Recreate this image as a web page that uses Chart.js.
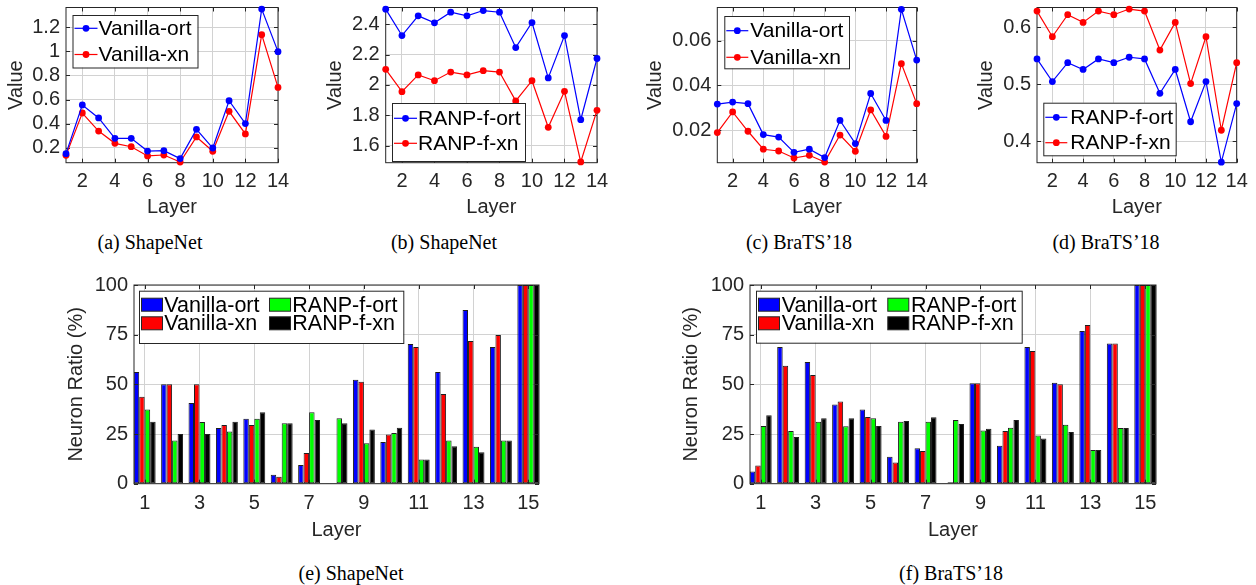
<!DOCTYPE html>
<html>
<head>
<meta charset="utf-8">
<script src="https://cdn.jsdelivr.net/npm/chart.js@4.4.1/dist/chart.umd.min.js"></script>
<style>
body { margin: 0; background: #fff; width: 1256px; height: 585px; position: relative; overflow: hidden; }
canvas { position: absolute; }
.cap { position: absolute; font-family: 'Liberation Serif', 'Times New Roman', serif; font-size: 20px; color: #000; transform: translate(-50%, -50%); white-space: nowrap; }
</style>
</head>
<body>
<canvas id="chart-a"></canvas>
<canvas id="chart-b"></canvas>
<canvas id="chart-c"></canvas>
<canvas id="chart-d"></canvas>
<canvas id="chart-e"></canvas>
<canvas id="chart-f"></canvas>
<div class="cap" style="left:150px;top:242px">(a) ShapeNet</div>
<div class="cap" style="left:444px;top:242px">(b) ShapeNet</div>
<div class="cap" style="left:799px;top:242px">(c) BraTS’18</div>
<div class="cap" style="left:1106px;top:242px">(d) BraTS’18</div>
<div class="cap" style="left:351px;top:573px">(e) ShapeNet</div>
<div class="cap" style="left:951px;top:573px">(f) BraTS’18</div>
<script>
// top row: per-layer values, 14 layers
const layers = [1, 2, 3, 4, 5, 6, 7, 8, 9, 10, 11, 12, 13, 14];
const layerTicks = [2, 4, 6, 8, 10, 12, 14];

const shapeVanillaOrt = [0.150, 0.555, 0.447, 0.278, 0.278, 0.172, 0.175, 0.109, 0.352, 0.197, 0.590, 0.400, 1.352, 0.998];
const shapeVanillaXn  = [0.136, 0.488, 0.338, 0.236, 0.208, 0.131, 0.139, 0.081, 0.289, 0.170, 0.502, 0.314, 1.139, 0.701];
const shapeRanpOrt    = [2.499, 2.325, 2.455, 2.409, 2.479, 2.455, 2.490, 2.479, 2.246, 2.411, 2.046, 2.325, 1.771, 2.174];
const shapeRanpXn     = [2.103, 1.956, 2.066, 2.028, 2.085, 2.066, 2.094, 2.085, 1.895, 2.028, 1.721, 1.958, 1.493, 1.833];
const bratsVanillaOrt = [0.0317, 0.0326, 0.0319, 0.0181, 0.0170, 0.0102, 0.0116, 0.0079, 0.0244, 0.0141, 0.0364, 0.0244, 0.0739, 0.0513];
const bratsVanillaXn  = [0.0190, 0.0282, 0.0196, 0.0116, 0.0108, 0.0077, 0.0089, 0.0059, 0.0179, 0.0107, 0.0291, 0.0173, 0.0497, 0.0319];
const bratsRanpOrt    = [0.5446, 0.5047, 0.5380, 0.5260, 0.5446, 0.5380, 0.5475, 0.5446, 0.4840, 0.5260, 0.4340, 0.5047, 0.3630, 0.4660];
const bratsRanpXn     = [0.6287, 0.5836, 0.6223, 0.6088, 0.6287, 0.6223, 0.6323, 0.6287, 0.5601, 0.6088, 0.5012, 0.5836, 0.4191, 0.5380];

// y limits and ticks of the four line plots
const yLimA = [0.075, 1.365], yTicksA = [0.2, 0.4, 0.6, 0.8, 1.0, 1.2];
const yLimB = [1.488, 2.51],  yTicksB = [1.6, 1.8, 2.0, 2.2, 2.4];
const yLimC = [0.0056, 0.0747], yTicksC = [0.02, 0.04, 0.06];
const yLimD = [0.362, 0.635], yTicksD = [0.4, 0.5, 0.6];

// bottom row: neuron ratio (%) per layer, 15 layers
const barLayers = [1, 2, 3, 4, 5, 6, 7, 8, 9, 10, 11, 12, 13, 14, 15];
const barTicks = [1, 3, 5, 7, 9, 11, 13, 15];
const ratioTicks = [0, 25, 50, 75, 100];

const shapeRatioVanillaOrt = [56.2, 50.0, 40.6, 28.0, 32.7, 4.5, 9.4, 0.3, 52.3, 21.0, 70.3, 56.2, 87.4, 68.8, 100];
const shapeRatioVanillaXn  = [43.8, 50.0, 50.0, 29.5, 29.5, 3.5, 15.4, 0.3, 51.3, 24.8, 68.8, 45.1, 71.8, 74.8, 100];
const shapeRatioRanpOrt    = [37.4, 21.8, 31.0, 26.3, 32.7, 30.4, 35.9, 33.0, 20.3, 25.5, 12.2, 21.8, 18.6, 21.8, 100];
const shapeRatioRanpXn     = [31.2, 25.0, 25.0, 31.2, 35.9, 30.4, 32.0, 30.4, 27.3, 28.2, 12.2, 18.8, 15.8, 21.8, 100];

const bratsRatioVanillaOrt = [6.2, 68.8, 61.2, 39.9, 37.4, 13.6, 17.8, 0.3, 50.5, 19.1, 68.8, 50.8, 76.8, 70.5, 100];
const bratsRatioVanillaXn  = [9.2, 59.4, 54.7, 41.4, 33.6, 10.7, 16.4, 0.7, 50.5, 26.5, 66.8, 50.0, 79.9, 70.5, 100];
const bratsRatioRanpOrt    = [29.0, 26.5, 31.2, 28.9, 32.9, 31.2, 31.2, 32.0, 26.8, 28.2, 24.2, 29.7, 16.9, 28.0, 100];
const bratsRatioRanpXn     = [34.5, 23.5, 33.0, 33.0, 29.0, 31.5, 33.4, 30.0, 27.7, 32.0, 22.7, 26.0, 16.9, 28.0, 100];

const SANS = "'Liberation Sans', Arial, Helvetica, sans-serif";
const AXIS = '#262626';
const GRID = '#d2d2d2';

function place(id, c) {
    const el = document.getElementById(id);
    el.width = c.w; el.height = c.h;
    el.style.left = c.x + 'px'; el.style.top = c.y + 'px';
    el.style.width = c.w + 'px'; el.style.height = c.h + 'px';
    return el;
}

// matlab style axes box with inward ticks on all four sides
// (under the lines for line plots, over the bars for bar plots)
const matlabBox = {
    id: 'matlabBox',
    beforeDatasetsDraw(chart) { if (chart.config.type !== 'bar') drawBox(chart); },
    afterDatasetsDraw(chart) { if (chart.config.type === 'bar') drawBox(chart); }
};
function drawBox(chart) {
    const { ctx, chartArea: a, scales: { x, y } } = chart;
    const tl = 4;
    ctx.save();
    ctx.strokeStyle = AXIS;
    ctx.lineWidth = 1;
    ctx.beginPath();
    x.ticks.forEach(t => {
        const px = Math.round(x.getPixelForValue(t.value)) + 0.5;
        ctx.moveTo(px, a.bottom); ctx.lineTo(px, a.bottom - tl);
        ctx.moveTo(px, a.top); ctx.lineTo(px, a.top + tl);
    });
    y.ticks.forEach(t => {
        const py = Math.round(y.getPixelForValue(t.value)) + 0.5;
        ctx.moveTo(a.left, py); ctx.lineTo(a.left + tl, py);
        ctx.moveTo(a.right, py); ctx.lineTo(a.right - tl, py);
    });
    ctx.stroke();
    ctx.strokeRect(a.left, a.top, a.right - a.left, a.bottom - a.top);
    ctx.restore();
}

// boxed legend placed inside the axes
const boxLegend = {
    id: 'boxLegend',
    afterDraw(chart, args, o) {
        const ctx = chart.ctx;
        ctx.save();
        ctx.fillStyle = '#fff';
        ctx.fillRect(o.x, o.y, o.w, o.h);
        ctx.strokeStyle = AXIS;
        ctx.lineWidth = 1;
        ctx.strokeRect(o.x + 0.5, o.y + 0.5, o.w, o.h);
        ctx.font = o.size + 'px ' + SANS;
        ctx.textBaseline = 'middle';
        const rows = [o.r1, o.r2];
        chart.data.datasets.forEach((ds, i) => {
            const col = Math.floor(i / 2), row = i % 2;
            const bx = o.x + col * (o.colW || 0), cy = o.y + rows[row];
            if (o.kind === 'line') {
                ctx.strokeStyle = ds.borderColor;
                ctx.lineWidth = ds.borderWidth;
                ctx.beginPath();
                ctx.moveTo(bx + 2, cy); ctx.lineTo(bx + 2 + o.lineLen, cy);
                ctx.stroke();
                ctx.fillStyle = ds.pointBackgroundColor;
                ctx.beginPath();
                ctx.arc(bx + 2 + o.lineLen / 2, cy, ds.pointRadius, 0, Math.PI * 2);
                ctx.fill();
            } else {
                ctx.fillStyle = ds.backgroundColor;
                ctx.fillRect(bx + 2.5, cy - 6.5, 21, 13);
                ctx.strokeStyle = AXIS;
                ctx.lineWidth = 1;
                ctx.strokeRect(bx + 2.5, cy - 6.5, 21, 13);
            }
            ctx.fillStyle = '#000';
            ctx.fillText(ds.label, bx + o.textX, cy + 1);
        });
        ctx.restore();
    }
};

function fmt(v) { return String(Math.round(v * 10000) / 10000); }

function lineChart(id, c, p, yTitlePad, names, seriesA, seriesB, yLim, yTicks, legend) {
    const mk = (label, color, data) => ({
        label,
        data: layers.map((l, i) => ({ x: l, y: data[i] })),
        borderColor: color,
        backgroundColor: color,
        pointBackgroundColor: color,
        pointBorderWidth: 0,
        pointRadius: 3.4,
        borderWidth: 1.2,
        tension: 0,
        clip: false
    });
    return new Chart(place(id, c), {
        type: 'line',
        data: { datasets: [mk(names[0], '#0000ff', seriesA), mk(names[1], '#ff0000', seriesB)] },
        options: {
            responsive: false,
            animation: false,
            layout: { padding: { left: 0, top: p.t - c.y, right: c.x + c.w - p.r, bottom: 0 } },
            plugins: {
                legend: { display: false },
                tooltip: { enabled: false },
                boxLegend: legend
            },
            scales: {
                x: {
                    type: 'linear', min: layers[0], max: layers[layers.length - 1],
                    afterBuildTicks: s => { s.ticks = layerTicks.map(v => ({ value: v })); },
                    afterFit: s => { s.height = c.y + c.h - p.b; s.paddingLeft = 0; s.paddingRight = 0; },
                    grid: { color: GRID, drawTicks: false },
                    border: { display: false },
                    ticks: { font: { size: 20, family: SANS }, color: AXIS, padding: 7, maxRotation: 0, autoSkip: false, callback: v => fmt(v) },
                    title: { display: true, text: 'Layer', font: { size: 20, family: SANS }, color: AXIS, padding: { top: 0, bottom: 6 } }
                },
                y: {
                    min: yLim[0], max: yLim[1],
                    afterBuildTicks: s => { s.ticks = yTicks.map(v => ({ value: v })); },
                    afterFit: s => { s.width = p.l - c.x; s.paddingTop = 0; s.paddingBottom = 0; },
                    grid: { color: GRID, drawTicks: false },
                    border: { display: false },
                    ticks: { font: { size: 20, family: SANS }, color: AXIS, padding: 6, callback: v => fmt(v) },
                    title: { display: true, text: 'Value', font: { size: 20, family: SANS }, color: AXIS, padding: { top: yTitlePad, bottom: 0 } }
                }
            }
        },
        plugins: [matlabBox, boxLegend]
    });
}

function barChart(id, c, p, yTitlePad, s1, s2, s3, s4, legend) {
    const mk = (label, color, data) => ({
        label,
        data: barLayers.map((l, i) => ({ x: l, y: data[i] })),
        backgroundColor: color,
        borderColor: '#1e1e1e',
        borderWidth: 1,
        borderSkipped: false,
        categoryPercentage: 0.8,
        barPercentage: 1.0,
        clip: 0
    });
    return new Chart(place(id, c), {
        type: 'bar',
        data: {
            datasets: [
                mk('Vanilla-ort', '#0000ff', s1),
                mk('Vanilla-xn', '#ff0000', s2),
                mk('RANP-f-ort', '#00ff00', s3),
                mk('RANP-f-xn', '#000000', s4)
            ]
        },
        options: {
            responsive: false,
            animation: false,
            layout: { padding: { left: 0, top: p.t - c.y, right: c.x + c.w - p.r, bottom: 0 } },
            plugins: {
                legend: { display: false },
                tooltip: { enabled: false },
                boxLegend: legend
            },
            scales: {
                x: {
                    type: 'linear', min: 0.61, max: 15.39, offset: false,
                    afterBuildTicks: s => { s.ticks = barTicks.map(v => ({ value: v })); },
                    afterFit: s => { s.height = c.y + c.h - p.b; s.paddingLeft = 0; s.paddingRight = 0; },
                    grid: { color: GRID, drawTicks: false, offset: false },
                    border: { display: false },
                    ticks: { font: { size: 20, family: SANS }, color: AXIS, padding: 8, maxRotation: 0, autoSkip: false, callback: v => fmt(v) },
                    title: { display: true, text: 'Layer', font: { size: 20, family: SANS }, color: AXIS, padding: { top: 0, bottom: 18 } }
                },
                y: {
                    min: 0, max: 100,
                    afterBuildTicks: s => { s.ticks = ratioTicks.map(v => ({ value: v })); },
                    afterFit: s => { s.width = p.l - c.x; s.paddingTop = 0; s.paddingBottom = 0; },
                    grid: { color: GRID, drawTicks: false },
                    border: { display: false },
                    ticks: { font: { size: 20, family: SANS }, color: AXIS, padding: 6, callback: v => fmt(v) },
                    title: { display: true, text: 'Neuron Ratio (%)', font: { size: 20, family: SANS }, color: AXIS, padding: { top: yTitlePad, bottom: 0 } }
                }
            }
        },
        plugins: [matlabBox, boxLegend]
    });
}

// (a) ShapeNet, Vanilla
lineChart('chart-a', { x: 0, y: 0, w: 300, h: 225 }, { l: 66, r: 278, t: 7.5, b: 162.7 }, 4.7,
    ['Vanilla-ort', 'Vanilla-xn'], shapeVanillaOrt, shapeVanillaXn, yLimA, yTicksA,
    { kind: 'line', x: 72.5, y: 15, w: 125, h: 52.5, r1: 13.3, r2: 39.5, lineLen: 23, textX: 26, size: 21 });

// (b) ShapeNet, RANP-f
lineChart('chart-b', { x: 300, y: 0, w: 310, h: 225 }, { l: 385.7, r: 597, t: 7.5, b: 162.7 }, 23,
    ['RANP-f-ort', 'RANP-f-xn'], shapeRanpOrt, shapeRanpXn, yLimB, yTicksB,
    { kind: 'line', x: 92, y: 103, w: 133, h: 58, r1: 15.3, r2: 40.3, lineLen: 23, textX: 26, size: 21 });

// (c) BraTS'18, Vanilla
lineChart('chart-c', { x: 630, y: 0, w: 300, h: 225 }, { l: 717.3, r: 916.7, t: 7.5, b: 162.7 }, 13,
    ['Vanilla-ort', 'Vanilla-xn'], bratsVanillaOrt, bratsVanillaXn, yLimC, yTicksC,
    { kind: 'line', x: 94.3, y: 16, w: 124.7, h: 52.3, r1: 14.7, r2: 41.3, lineLen: 22, textX: 26, size: 21 });

// (d) BraTS'18, RANP-f
lineChart('chart-d', { x: 940, y: 0, w: 316, h: 225 }, { l: 1037, r: 1236.7, t: 7.5, b: 162.7 }, 34.7,
    ['RANP-f-ort', 'RANP-f-xn'], bratsRanpOrt, bratsRanpXn, yLimD, yTicksD,
    { kind: 'line', x: 103.3, y: 102.7, w: 132.4, h: 52.6, r1: 14.6, r2: 40, lineLen: 22, textX: 27, size: 21 });

// (e) ShapeNet neuron ratio
barChart('chart-e', { x: 40, y: 270, w: 520, h: 290 }, { l: 134, r: 539, t: 285, b: 483.7 }, 24.7,
    shapeRatioVanillaOrt, shapeRatioVanillaXn, shapeRatioRanpOrt, shapeRatioRanpXn,
    { kind: 'bar', x: 99, y: 20.7, w: 264.3, h: 52.3, r1: 14, r2: 32.6, colW: 128, textX: 25.3, size: 21.5 });

// (f) BraTS'18 neuron ratio
barChart('chart-f', { x: 640, y: 270, w: 540, h: 290 }, { l: 750, r: 1156, t: 285, b: 483.7 }, 39.7,
    bratsRatioVanillaOrt, bratsRatioVanillaXn, bratsRatioRanpOrt, bratsRatioRanpXn,
    { kind: 'bar', x: 116, y: 20.7, w: 265.7, h: 52, r1: 14, r2: 32.6, colW: 129.3, textX: 25.7, size: 21.5 });
</script>
</body>
</html>
